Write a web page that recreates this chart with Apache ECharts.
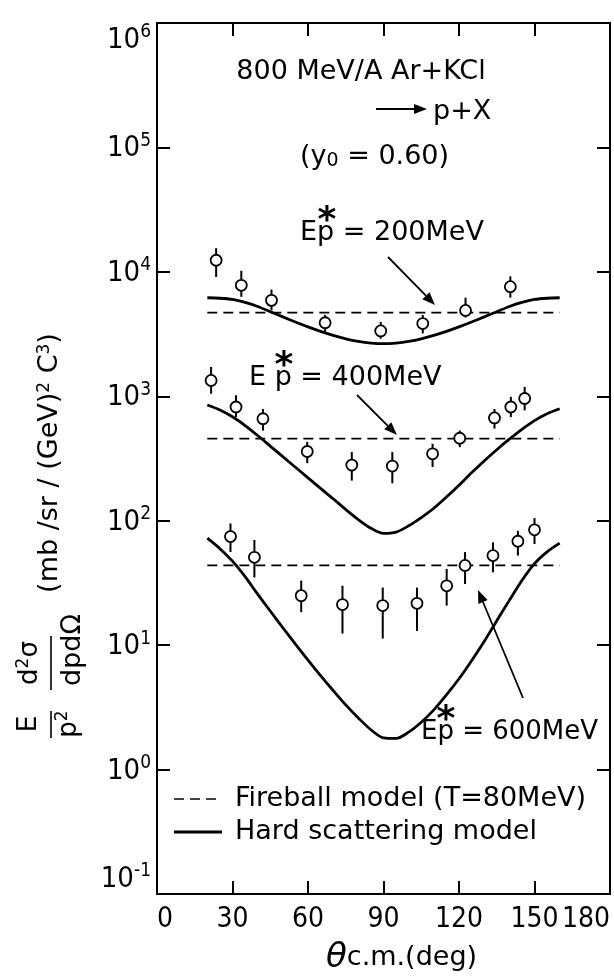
<!DOCTYPE html>
<html>
<head>
<meta charset="utf-8">
<script src="https://cdn.jsdelivr.net/npm/echarts@6/dist/echarts.min.js"></script>
<style>
  html, body { margin: 0; padding: 0; background: #fff; }
  #chart { width: 614px; height: 979px; }
</style>
</head>
<body>
<div id="chart"></div>
<script>
// measured points, E*p = 200 MeV
var angles200 = [23.5, 33.5, 45.5, 66.8, 88.9, 105.6, 122.6, 140.4];
var data200 = [12400, 7800, 5900, 3900, 3350, 3840, 4900, 7600];
var lo200 = [9100, 6300, 4900, 3300, 2900, 3200, 4300, 6200];
var hi200 = [15500, 10200, 7200, 4500, 3950, 4500, 6200, 9200];

// measured points, E*p = 400 MeV
var angles400 = [21.5, 31.4, 42.1, 59.7, 77.4, 93.5, 109.5, 120.3, 134.1, 140.6, 146.1];
var data400 = [1340, 820, 660, 360, 280, 275, 345, 460, 670, 820, 960];
var lo400 = [1050, 680, 530, 290, 210, 200, 270, 390, 550, 680, 770];
var hi400 = [1720, 1020, 790, 430, 356, 356, 415, 530, 790, 990, 1190];

// measured points, E*p = 600 MeV
var angles600 = [29.2, 38.7, 57.3, 73.7, 89.7, 103.3, 115.1, 122.4, 133.5, 143.4, 150];
var data600 = [74.6, 50.8, 25, 21.2, 20.8, 21.7, 30, 43.7, 52.5, 68.4, 84.5];
var lo600 = [56, 35, 18.4, 12.4, 11.3, 13, 20.8, 31, 38.5, 52.5, 65];
var hi600 = [95, 70, 33, 30, 29, 29, 41, 56, 67, 83, 105];

// hard scattering model curves, read every 5 deg
var modelAngles = [20, 25, 30, 35, 40, 45, 50, 55, 60, 65, 70, 75, 80, 85, 90,
  95, 100, 105, 110, 115, 120, 125, 130, 135, 140, 145, 150, 155, 160];
var hard200 = [6194, 6138, 5998, 5689, 5272, 4786, 4345, 3954, 3614, 3327, 3090, 2897, 2761, 2679, 2649,
  2679, 2761, 2897, 3090, 3327, 3614, 3954, 4345, 4786, 5272, 5689, 5998, 6138, 6194];
var hard400 = [851, 776, 684, 582, 484, 398, 327, 269, 221, 182, 150, 123, 102, 87, 79,
  81, 91, 106, 126, 155, 193, 243, 302, 372, 452, 543, 638, 724, 794];
var hard600 = [72.4, 59.6, 47.3, 35.5, 25.7, 18.8, 13.8, 10.2, 7.59, 5.69, 4.32, 3.31, 2.60, 2.09, 1.80,
  1.78, 2.00, 2.40, 3.02, 3.98, 5.37, 7.50, 10.7, 15.7, 22.9, 33.1, 45.2, 56.2, 66.1];

// fireball model (flat lines)
var fireballAngles = [20, 160];
var fireball200 = [4700, 4700];
var fireball400 = [456, 456];
var fireball600 = [43.7, 43.7];

var FIREBALL = 'Fireball model (T=80MeV)';
var HARD = 'Hard scattering model';
var FONT = "'DejaVu Sans', sans-serif";
var NARROW = "'Liberation Sans Narrow', 'DejaVu Sans Condensed', 'DejaVu Sans', sans-serif";

var hardStyle = { color: '#000', width: 2.8 };
var fireStyle = { color: '#000', width: 1.7, type: [10, 6] };

function pairs(xs, ys) {
  return xs.map(function (x, i) { return [x, ys[i]]; });
}

function errorBars(xs, lo, hi) {
  return {
    type: 'custom',
    data: xs.map(function (x, i) { return [x, lo[i], hi[i]]; }),
    encode: { x: 0, y: [1, 2] },
    renderItem: function (params, api) {
      var a = api.coord([api.value(0), api.value(1)]);
      var b = api.coord([api.value(0), api.value(2)]);
      return {
        type: 'line',
        shape: { x1: a[0], y1: a[1], x2: b[0], y2: b[1] },
        style: { stroke: '#000', lineWidth: 2 }
      };
    },
    z: 3,
    silent: true
  };
}

function points(xs, ys) {
  return {
    type: 'scatter',
    data: pairs(xs, ys),
    symbol: 'circle',
    symbolSize: 11,
    itemStyle: { color: '#fff', borderColor: '#000', borderWidth: 1.8, opacity: 1 },
    z: 4,
    silent: true
  };
}

function hard(ys) {
  return {
    type: 'line', name: HARD, data: pairs(modelAngles, ys),
    smooth: 0.3, symbol: 'none',
    lineStyle: hardStyle,
    z: 2, silent: true
  };
}

function fireball(ys) {
  return {
    type: 'line', name: FIREBALL, data: pairs(fireballAngles, ys),
    symbol: 'none',
    lineStyle: fireStyle,
    z: 2, silent: true
  };
}

// annotation arrow: shaft + filled head
function arrow(x1, y1, x2, y2) {
  var ang = Math.atan2(y2 - y1, x2 - x1), L = 13, W = 5;
  var bx = x2 - L * Math.cos(ang), by = y2 - L * Math.sin(ang);
  var px = -Math.sin(ang) * W, py = Math.cos(ang) * W;
  return [
    { type: 'line', shape: { x1: x1, y1: y1, x2: bx, y2: by }, style: { stroke: '#000', lineWidth: 1.8 } },
    { type: 'polygon', shape: { points: [[x2, y2], [bx + px, by + py], [bx - px, by - py]] }, style: { fill: '#000' } }
  ];
}

function label(text, x, y, size, align, rich, rot) {
  return {
    type: 'text', x: x, y: y, rotation: rot || 0,
    style: {
      text: text, fill: '#000', font: size + 'px ' + FONT,
      align: align || 'left', verticalAlign: 'middle',
      textAlign: align || 'left', textVerticalAlign: 'middle',
      rich: rich
    }
  };
}

function star(x, y) {
  var s = label('*', x, y, 36, 'center');
  s.style.font = 'bold 36px ' + FONT;
  return s;
}

// legend row drawn by hand: line sample + text
function legendRow(name, ls, y) {
  return [
    { type: 'line', shape: { x1: 174, y1: y, x2: 222, y2: y },
      style: { stroke: ls.color, lineWidth: ls.width, lineDash: ls.type || null } },
    label(name, 235, y, 27, 'left')
  ];
}

var sup = { fontSize: 17, fontFamily: FONT, verticalAlign: 'top', lineHeight: 14 };
var base = { fontSize: 26, fontFamily: FONT, lineHeight: 30 };

var chart = echarts.init(document.getElementById('chart'), null, { renderer: 'canvas' });

var axisLine = { onZero: false, lineStyle: { color: '#000', width: 2 } };
var tick = { inside: true, length: 13, lineStyle: { color: '#000', width: 2 } };
var option = {
  animation: false,
  backgroundColor: '#fff',
  grid: { left: 157, right: 4, top: 23, bottom: 85, show: false },
  xAxis: [{
    type: 'value', min: 0, max: 180, interval: 30,
    axisLine: axisLine, axisTick: tick,
    axisLabel: {
      color: '#000', fontFamily: NARROW, fontSize: 28, margin: 12,
      alignMinLabel: 'left', alignMaxLabel: 'right'
    },
    splitLine: { show: false }
  }, {
    type: 'value', min: 0, max: 180, interval: 30, position: 'top',
    axisLine: axisLine, axisTick: tick,
    axisLabel: { show: false },
    splitLine: { show: false }
  }],
  yAxis: [{
    type: 'log', logBase: 10, min: 0.1, max: 1e6,
    axisLine: axisLine, axisTick: tick,
    minorTick: { show: false },
    axisLabel: {
      color: '#000', margin: 6,
      verticalAlignMinLabel: 'bottom', verticalAlignMaxLabel: 'top',
      formatter: function (v) {
        var e = Math.round(Math.log(v) / Math.LN10);
        return '{b|10}{s|' + e + '}';
      },
      rich: {
        b: { fontSize: 29, fontFamily: NARROW, color: '#000', lineHeight: 32, verticalAlign: 'bottom' },
        s: { fontSize: 19, fontFamily: NARROW, color: '#000', lineHeight: 18, verticalAlign: 'top' }
      }
    },
    splitLine: { show: false }
  }, {
    type: 'log', logBase: 10, min: 0.1, max: 1e6, position: 'right',
    axisLine: axisLine, axisTick: tick,
    axisLabel: { show: false },
    splitLine: { show: false }
  }],
  series: [
    fireball(fireball200), fireball(fireball400), fireball(fireball600),
    hard(hard200), hard(hard400), hard(hard600),
    errorBars(angles200, lo200, hi200),
    errorBars(angles400, lo400, hi400),
    errorBars(angles600, lo600, hi600),
    points(angles200, data200),
    points(angles400, data400),
    points(angles600, data600)
  ],
  graphic: [].concat(
    [
      label('800 MeV/A Ar+KCl', 361, 72, 27, 'center'),
      label('p+X', 433, 112, 27, 'left'),
      label('(y{sub|0} = 0.60)', 300, 157, 27, 'left', {
        sub: { fontSize: 19, fontFamily: FONT, verticalAlign: 'bottom', lineHeight: 12 }
      }),
      label('Ep = 200MeV', 300, 233, 27, 'left'), star(327, 222),
      label('E p = 400MeV', 249, 378, 27, 'left'), star(284, 367),
      label('Ep = 600MeV', 421, 732, 26, 'left'), star(446, 721),
      label('{th|θ}{t|c.m.(deg)}', 326, 958, 26, 'left', {
        th: { fontSize: 34, fontFamily: FONT, fontStyle: 'italic' },
        t: { fontSize: 27, fontFamily: FONT }
      }),
      // y axis title, rotated
      label('E', 29, 724, 27, 'center', null, Math.PI / 2),
      { type: 'line', shape: { x1: 51, y1: 711, x2: 51, y2: 738 }, style: { stroke: '#000', lineWidth: 1.6 } },
      label('{a|p}{s|2}', 69, 724, 27, 'center', { a: base, s: sup }, Math.PI / 2),
      label('{a|d}{s|2}{a|σ}', 30, 663, 27, 'center', { a: base, s: sup }, Math.PI / 2),
      { type: 'line', shape: { x1: 51, y1: 636, x2: 51, y2: 690 }, style: { stroke: '#000', lineWidth: 1.6 } },
      label('dpdΩ', 73, 650, 27, 'center', null, Math.PI / 2),
      label('(mb /sr / (GeV){s|2} C{s|3})', 50, 463, 27, 'center', { s: sup }, Math.PI / 2)
    ],
    legendRow(FIREBALL, fireStyle, 799),
    legendRow(HARD, { color: '#000', width: 3 }, 832),
    arrow(376, 109, 427, 109),
    arrow(388, 257, 435, 305),
    arrow(357, 395, 397, 435),
    arrow(523, 698, 478, 590)
  )
};

chart.setOption(option);
</script>
</body>
</html>
